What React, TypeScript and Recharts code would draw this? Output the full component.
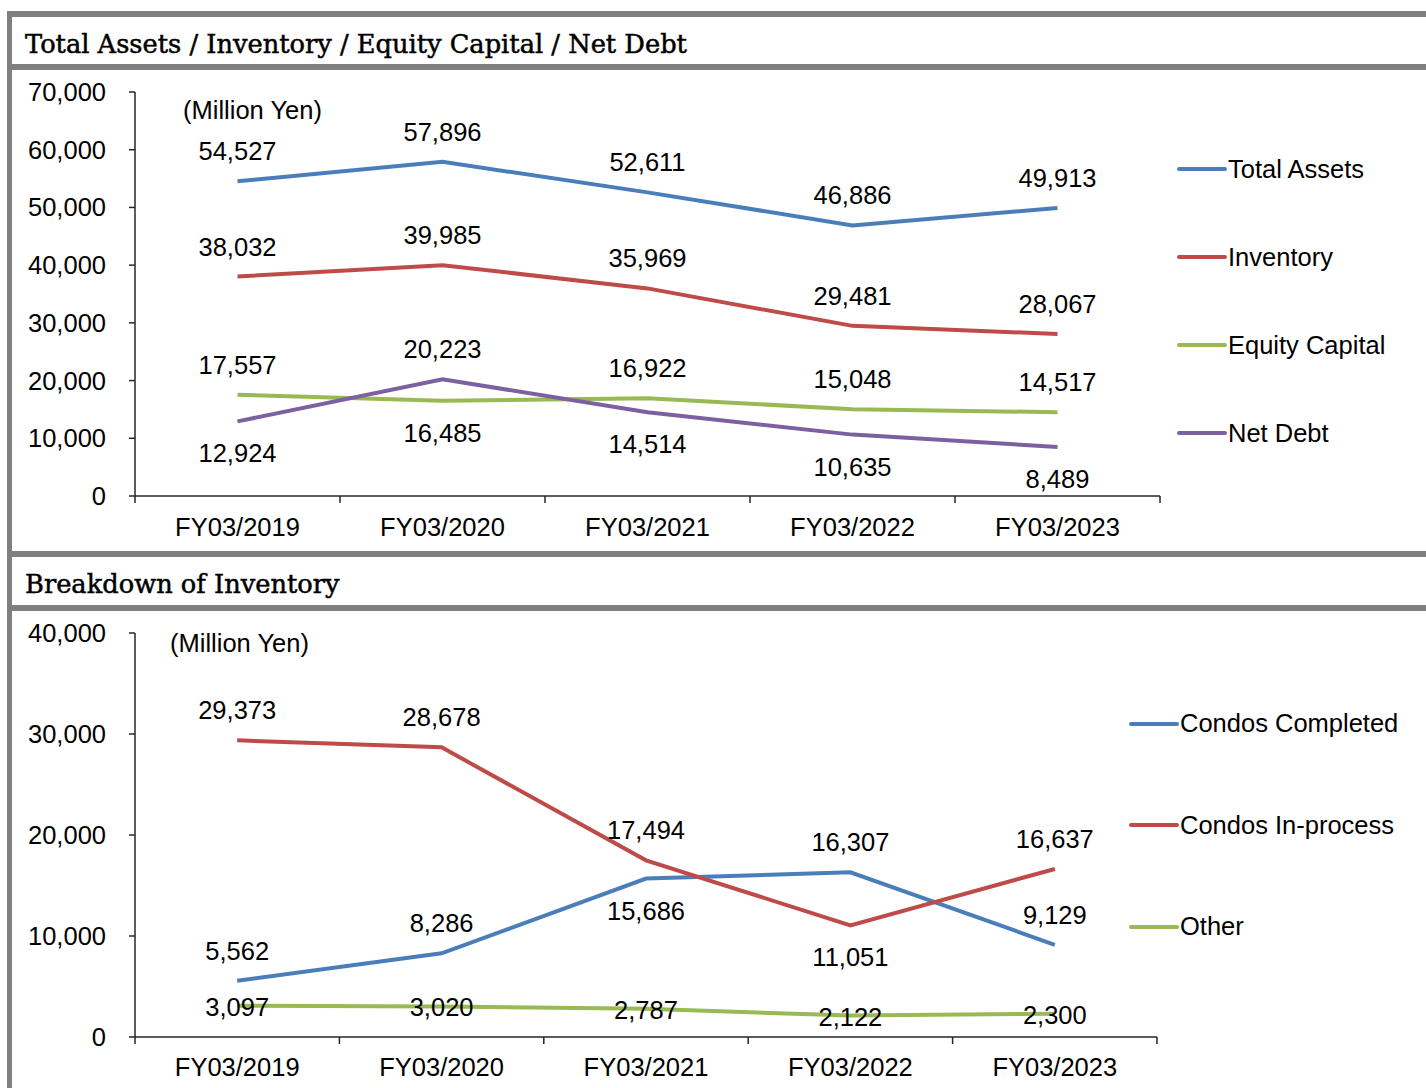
import { LineChart, Line, XAxis, YAxis, LabelList } from "recharts"

const years = ["FY03/2019", "FY03/2020", "FY03/2021", "FY03/2022", "FY03/2023"]

// balance sheet overview (million yen)
const totalAssets = [54527, 57896, 52611, 46886, 49913]
const inventory = [38032, 39985, 35969, 29481, 28067]
const equityCapital = [17557, 16485, 16922, 15048, 14517]
const netDebt = [12924, 20223, 14514, 10635, 8489]
const overviewTicks = [0, 10000, 20000, 30000, 40000, 50000, 60000, 70000]

// inventory breakdown (million yen)
const condosCompleted = [5562, 8286, 15686, 16307, 9129]
const condosInProcess = [29373, 28678, 17494, 11051, 16637]
const otherInventory = [3097, 3020, 2787, 2122, 2300]
const breakdownTicks = [0, 10000, 20000, 30000, 40000]

// which side of the point each value label sits on
const aboveAll = ["top", "top", "top", "top", "top"]
const equityLabelSide = ["top", "bottom", "top", "top", "top"]
const netDebtLabelSide = ["bottom", "top", "bottom", "bottom", "bottom"]
const completedLabelSide = ["top", "top", "bottom", "top", "top"]
const inProcessLabelSide = ["top", "top", "top", "bottom", "top"]
const onLine = ["center", "center", "center", "center", "center"]

const BLUE = "#4a7ebb"
const RED = "#be4b48"
const GREEN = "#98b954"
const PURPLE = "#7d60a0"
const FRAME = "#7f7f7f"
const AXIS = "#262626"
const SANS = "'Liberation Sans', Arial, sans-serif"
const SERIF = "'DejaVu Serif', serif"
const FONT_SIZE = 25.5

const overviewSeries = [
  { key: "totalAssets", name: "Total Assets", color: BLUE, sides: aboveAll },
  { key: "inventory", name: "Inventory", color: RED, sides: aboveAll },
  { key: "equityCapital", name: "Equity Capital", color: GREEN, sides: equityLabelSide },
  { key: "netDebt", name: "Net Debt", color: PURPLE, sides: netDebtLabelSide },
]

const breakdownSeries = [
  { key: "condosCompleted", name: "Condos Completed", color: BLUE, sides: completedLabelSide },
  { key: "condosInProcess", name: "Condos In-process", color: RED, sides: inProcessLabelSide },
  { key: "otherInventory", name: "Other", color: GREEN, sides: onLine },
]

const overviewData = years.map((year, i) => ({
  year,
  totalAssets: totalAssets[i],
  inventory: inventory[i],
  equityCapital: equityCapital[i],
  netDebt: netDebt[i],
}))

const breakdownData = years.map((year, i) => ({
  year,
  condosCompleted: condosCompleted[i],
  condosInProcess: condosInProcess[i],
  otherInventory: otherInventory[i],
}))

const fmt = (v: number) => v.toLocaleString("en-US")

function valueLabel(sides: string[]) {
  return (props: any) => {
    const { x, y, value, index } = props
    const side = sides[index]
    const dy = side === "top" ? -30 : side === "bottom" ? 32 : 1
    return (
      <text
        x={x}
        y={y + dy}
        textAnchor="middle"
        dominantBaseline="central"
        fontFamily={SANS}
        fontSize={FONT_SIZE}
        fill="#000"
      >
        {fmt(value)}
      </text>
    )
  }
}

// category ticks: label centred, tick marks on the category boundaries
function categoryTick(half: number, labelGap: number) {
  return (props: any) => {
    const { x, y, payload, index, visibleTicksCount } = props
    return (
      <g>
        <line x1={x - half} x2={x - half} y1={y} y2={y + 7} stroke={AXIS} strokeWidth={1.5} />
        {index === visibleTicksCount - 1 && (
          <line x1={x + half} x2={x + half} y1={y} y2={y + 7} stroke={AXIS} strokeWidth={1.5} />
        )}
        <text
          x={x}
          y={y + labelGap}
          textAnchor="middle"
          dominantBaseline="central"
          fontFamily={SANS}
          fontSize={FONT_SIZE}
          fill="#000"
        >
          {payload.value}
        </text>
      </g>
    )
  }
}

function SeriesLegend({ series, left, top, gap }: { series: typeof overviewSeries; left: number; top: number; gap: number }) {
  return (
    <div style={{ position: "absolute", left, top }}>
      {series.map((s) => (
        <div
          key={s.key}
          style={{ height: gap, display: "flex", alignItems: "center", fontFamily: SANS, fontSize: FONT_SIZE, color: "#000" }}
        >
          <svg width={51} height={8} style={{ display: "block" }}>
            <line x1={2} x2={48} y1={4} y2={4} stroke={s.color} strokeWidth={4} strokeLinecap="round" />
          </svg>
          <span style={{ whiteSpace: "nowrap" }}>{s.name}</span>
        </div>
      ))}
    </div>
  )
}

const bar = (style: React.CSSProperties) => (
  <div style={{ position: "absolute", background: FRAME, ...style }} />
)

const titleStyle: React.CSSProperties = {
  position: "absolute",
  left: 25,
  fontFamily: SERIF,
  fontSize: 25.7,
  color: "#000",
  whiteSpace: "nowrap",
  display: "flex",
  alignItems: "center",
  WebkitTextStroke: "0.5px #000",
}

const unitStyle: React.CSSProperties = {
  position: "absolute",
  fontFamily: SANS,
  fontSize: FONT_SIZE,
  color: "#000",
  lineHeight: "30px",
}

export default function App() {
  return (
    <div style={{ position: "absolute", left: 0, top: 0, width: 1426, height: 1088, background: "#fff", overflow: "hidden" }}>
      {bar({ left: 7, top: 11, width: 1419, height: 6 })}
      {bar({ left: 7, top: 11, width: 5, height: 1077 })}
      {bar({ left: 7, top: 64, width: 1419, height: 6 })}
      {bar({ left: 7, top: 551, width: 1419, height: 6 })}
      {bar({ left: 7, top: 605, width: 1419, height: 6 })}

      <div style={{ ...titleStyle, top: 20, height: 47 }}>Total Assets / Inventory / Equity Capital / Net Debt</div>
      <div style={{ ...titleStyle, top: 560, height: 48 }}>Breakdown of Inventory</div>

      <div style={{ position: "absolute", left: 0, top: 70 }}>
        <LineChart width={1426} height={481} data={overviewData} margin={{ top: 22, right: 266, bottom: 0, left: 35 }}>
          <XAxis
            dataKey="year"
            padding={{ left: 102.5, right: 102.5 }}
            height={55}
            axisLine={{ stroke: AXIS, strokeWidth: 1.5 }}
            tickLine={false}
            tickSize={0}
            tickMargin={0}
            tick={categoryTick(102.5, 31)}
            interval={0}
          />
          <YAxis
            width={100}
            domain={[0, 70000]}
            ticks={overviewTicks}
            tickFormatter={fmt}
            axisLine={{ stroke: AXIS, strokeWidth: 1.5 }}
            tickLine={{ stroke: AXIS, strokeWidth: 1.5 }}
            tickSize={6}
            tickMargin={23}
            tick={{ fill: "#000", fontFamily: SANS, fontSize: FONT_SIZE }}
          />
          {overviewSeries.map((s) => (
            <Line key={s.key} dataKey={s.key} name={s.name} stroke={s.color} strokeWidth={4} dot={false} isAnimationActive={false}>
              <LabelList dataKey={s.key} content={valueLabel(s.sides)} />
            </Line>
          ))}
        </LineChart>
        <div style={{ ...unitStyle, left: 183, top: 25 }}>(Million Yen)</div>
        <SeriesLegend series={overviewSeries} left={1177} top={55} gap={88} />
      </div>

      <div style={{ position: "absolute", left: 0, top: 611 }}>
        <LineChart width={1426} height={477} data={breakdownData} margin={{ top: 22, right: 269, bottom: 0, left: 35 }}>
          <XAxis
            dataKey="year"
            padding={{ left: 102.2, right: 102.2 }}
            height={51}
            axisLine={{ stroke: AXIS, strokeWidth: 1.5 }}
            tickLine={false}
            tickSize={0}
            tickMargin={0}
            tick={categoryTick(102.2, 30)}
            interval={0}
          />
          <YAxis
            width={100}
            domain={[0, 40000]}
            ticks={breakdownTicks}
            tickFormatter={fmt}
            axisLine={{ stroke: AXIS, strokeWidth: 1.5 }}
            tickLine={{ stroke: AXIS, strokeWidth: 1.5 }}
            tickSize={6}
            tickMargin={23}
            tick={{ fill: "#000", fontFamily: SANS, fontSize: FONT_SIZE }}
          />
          {breakdownSeries.map((s) => (
            <Line key={s.key} dataKey={s.key} name={s.name} stroke={s.color} strokeWidth={4} dot={false} isAnimationActive={false}>
              <LabelList dataKey={s.key} content={valueLabel(s.sides)} />
            </Line>
          ))}
        </LineChart>
        <div style={{ ...unitStyle, left: 170, top: 17 }}>(Million Yen)</div>
        <SeriesLegend series={breakdownSeries} left={1129} top={62} gap={101.5} />
      </div>
    </div>
  )
}
